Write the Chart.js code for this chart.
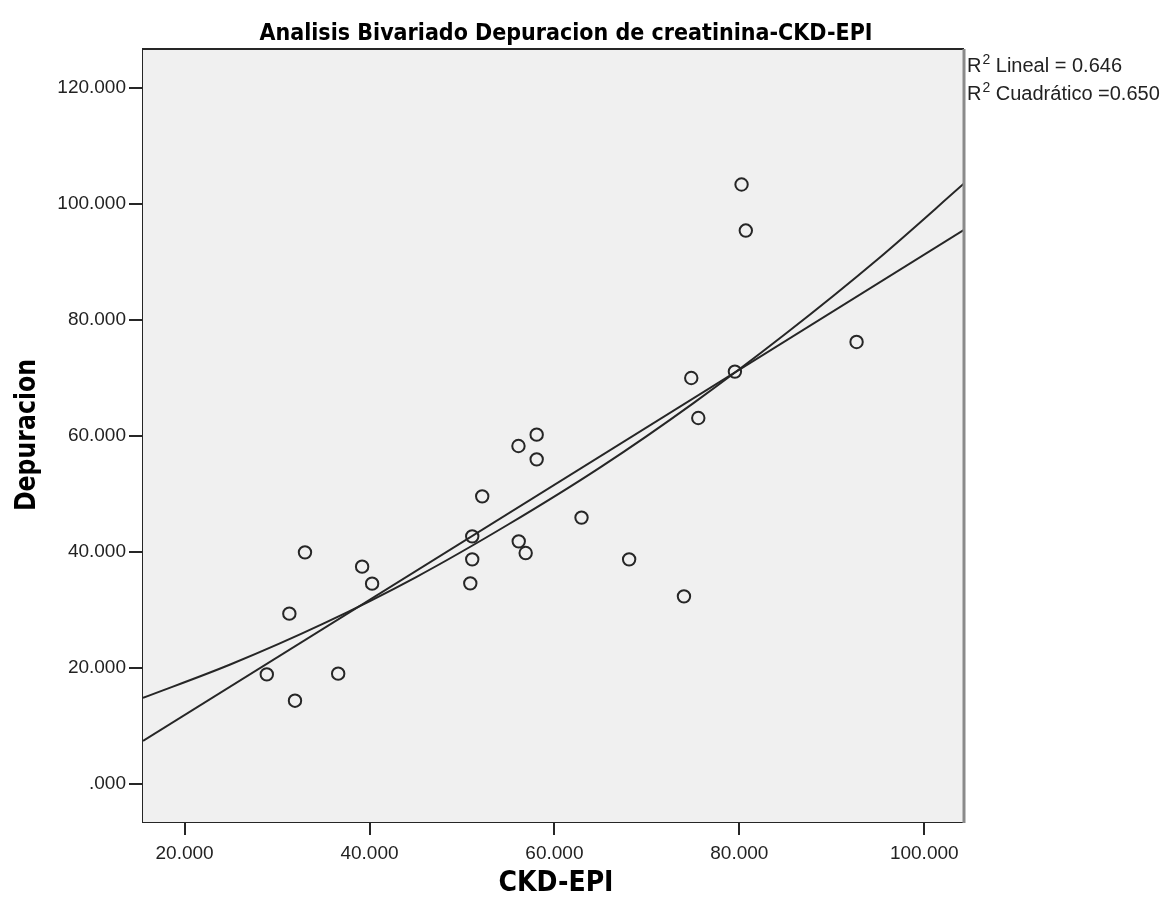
<!DOCTYPE html>
<html>
<head>
<meta charset="utf-8">
<title>Analisis Bivariado Depuracion de creatinina-CKD-EPI</title>
<script src="https://cdn.jsdelivr.net/npm/chart.js@4.4.1/dist/chart.umd.min.js"></script>
<style>
  html, body {
    margin: 0;
    padding: 0;
    background: #ffffff;
  }
  canvas {
    display: block;
  }
</style>
</head>
<body>
<canvas id="bivariado-chart" width="1164" height="906"></canvas>
<script>
"use strict";

// CKD-EPI (x) vs depuracion de creatinina (y), one entry per patient
const CKD_EPI = [28.89, 31.33, 31.94, 33.02, 36.61, 39.20, 40.28, 50.90, 51.11, 51.11,
  52.19, 56.11, 56.14, 56.89, 58.08, 58.08, 62.93, 68.08, 74.01, 74.80,
  75.56, 79.52, 80.24, 80.70, 92.68];
const DEPURACION = [18.85, 29.33, 14.32, 39.90, 18.98, 37.43, 34.50, 34.55, 38.69, 42.66,
  49.56, 58.24, 41.80, 39.78, 60.20, 55.94, 45.89, 38.69, 32.31, 69.97,
  63.07, 71.07, 103.33, 95.39, 76.18];

// fit lines
const LINEAL_X = [15.5, 104.3];
const LINEAL_Y = [7.4, 95.5];
const CUADRATICO_X = [15.5, 25, 35, 45, 55, 65, 75, 85, 95, 104.3];
const CUADRATICO_Y = [14.8, 20.6, 27.6, 35.6, 44.7, 54.6, 65.6, 77.6, 90.5, 103.5];

const X_TICKS = [20, 40, 60, 80, 100];
const Y_TICKS = [0, 20, 40, 60, 80, 100, 120];
const R2_LABELS = [" Lineal = 0.646", " Cuadrático =0.650"];

(function () {
  const INK = "#262626";
  const PANEL = "#f0f0f0";
  const TICK_FONT = "'Liberation Sans', Arial, sans-serif";
  const BOLD_FONT = "'Liberation Sans Narrow', 'DejaVu Sans Condensed', 'Liberation Sans', Arial, sans-serif";

  window.addEventListener("load", init);

  function init() {
    new Chart(id("bivariado-chart"), {
      type: "scatter",
      data: {
        datasets: [
          {
            label: "Observado",
            data: toPoints(CKD_EPI, DEPURACION),
            pointStyle: "circle",
            pointRadius: 6.2,
            pointBorderWidth: 2,
            pointBorderColor: INK,
            pointBackgroundColor: "rgba(0,0,0,0)",
            showLine: false
          },
          {
            label: "Lineal",
            data: toPoints(LINEAL_X, LINEAL_Y),
            showLine: true,
            borderColor: INK,
            borderWidth: 2,
            pointRadius: 0
          },
          {
            label: "Cuadrático",
            data: toPoints(CUADRATICO_X, CUADRATICO_Y),
            showLine: true,
            borderColor: INK,
            borderWidth: 2,
            pointRadius: 0,
            cubicInterpolationMode: "monotone"
          }
        ]
      },
      options: {
        responsive: false,
        animation: false,
        layout: {
          padding: {top: 49, right: 200, left: 0, bottom: 0}
        },
        plugins: {
          legend: {display: false},
          tooltip: {enabled: false}
        },
        scales: {
          x: {
            type: "linear",
            min: 15.5,
            max: 104.3,
            afterBuildTicks: scale => {
              scale.ticks = X_TICKS.map(v => ({value: v}));
            },
            afterFit: scale => {
              scale.height = 84;
            },
            grid: {
              drawOnChartArea: false,
              drawTicks: true,
              tickLength: 13,
              tickColor: INK,
              lineWidth: 2
            },
            border: {display: true, color: INK, width: 2},
            ticks: {
              color: "#222222",
              font: {family: TICK_FONT, size: 19},
              padding: 7,
              maxRotation: 0,
              callback: formatTick
            }
          },
          y: {
            type: "linear",
            min: -6.6,
            max: 126.7,
            afterBuildTicks: scale => {
              scale.ticks = Y_TICKS.map(v => ({value: v}));
            },
            afterFit: scale => {
              scale.width = 143;
            },
            grid: {
              drawOnChartArea: false,
              drawTicks: true,
              tickLength: 14,
              tickColor: INK,
              lineWidth: 2
            },
            border: {display: true, color: INK, width: 2},
            ticks: {
              color: "#222222",
              font: {family: TICK_FONT, size: 19},
              padding: 3,
              callback: formatTick
            }
          }
        }
      },
      plugins: [panelPlugin(), textPlugin()]
    });
  }

  function toPoints(xs, ys) {
    return xs.map((x, i) => ({x: x, y: ys[i]}));
  }

  function formatTick(value) {
    return value === 0 ? ".000" : value.toFixed(3);
  }

  // grey plot panel plus the top and right frame
  function panelPlugin() {
    return {
      id: "panel",
      beforeDatasetsDraw(chart) {
        let ctx = chart.ctx;
        let a = chart.chartArea;
        ctx.save();
        ctx.fillStyle = PANEL;
        ctx.fillRect(a.left, a.top, a.right - a.left, a.bottom - a.top);
        ctx.restore();
      },
      afterDraw(chart) {
        let ctx = chart.ctx;
        let a = chart.chartArea;
        ctx.save();
        ctx.strokeStyle = INK;
        ctx.lineWidth = 2;
        ctx.beginPath();
        ctx.moveTo(a.left, a.top);
        ctx.lineTo(a.right, a.top);
        ctx.stroke();
        ctx.strokeStyle = "#8a8a8a";
        ctx.lineWidth = 3;
        ctx.beginPath();
        ctx.moveTo(a.right, a.top);
        ctx.lineTo(a.right, a.bottom + 1);
        ctx.stroke();
        ctx.restore();
      }
    };
  }

  // title, axis names and the R squared notes
  function textPlugin() {
    return {
      id: "texts",
      afterDraw(chart) {
        let ctx = chart.ctx;
        let a = chart.chartArea;
        ctx.save();
        ctx.fillStyle = "#000000";
        ctx.textAlign = "center";
        ctx.textBaseline = "alphabetic";

        ctx.font = "bold 23px " + BOLD_FONT;
        ctx.fillText("Analisis Bivariado Depuracion de creatinina-CKD-EPI", 566, 40, 621);

        ctx.font = "bold 28px " + BOLD_FONT;
        ctx.fillText("CKD-EPI", 556, 891, 115);

        ctx.save();
        ctx.translate(35, 435);
        ctx.rotate(-Math.PI / 2);
        ctx.fillText("Depuracion", 0, 0, 152);
        ctx.restore();

        ctx.textAlign = "left";
        ctx.fillStyle = "#222222";
        R2_LABELS.forEach((label, i) => {
          let x = a.right + 3;
          let y = 72 + i * 28;
          ctx.font = "20px " + TICK_FONT;
          ctx.fillText("R", x, y);
          x += ctx.measureText("R").width + 1;
          ctx.font = "14px " + TICK_FONT;
          ctx.fillText("2", x, y - 8);
          x += ctx.measureText("2").width;
          ctx.font = "20px " + TICK_FONT;
          ctx.fillText(label, x, y);
        });
        ctx.restore();
      }
    };
  }

  function id(name) {
    return document.getElementById(name);
  }
})();
</script>
</body>
</html>
